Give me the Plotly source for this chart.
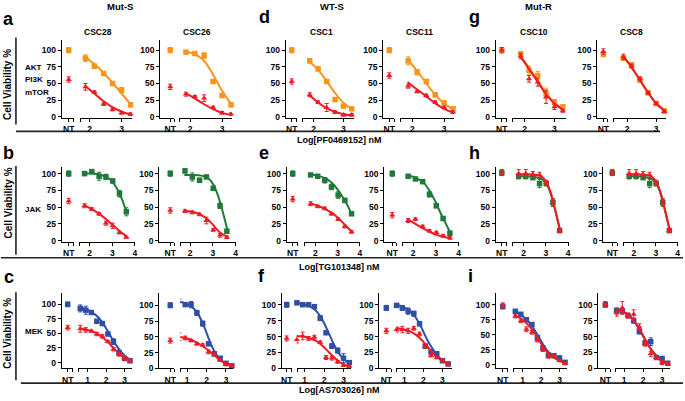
import plotly.graph_objects as go

W, H = 685, 401
ORANGE = "#F7941D"
RED = "#ED1C24"
GREEN = "#1F7A3A"
BLUE = "#2D4FA6"
FONT = "Liberation Sans"

# ---------------- data ----------------
ytick_vals = [0, 25, 50, 75, 100]
xticks_row1 = [2, 3]
xticks_row2 = [2, 3, 4]
xticks_row3 = [1, 2, 3]

dose_row1 = [1.87, 2.15, 2.44, 2.72, 3.0, 3.28]
fitx_row1 = [1.85, 2.1, 2.4, 2.7, 3.0, 3.3]
dose_row2 = [1.78, 2.1, 2.42, 2.72, 3.02, 3.32, 3.62]
fitx_row2 = [1.75, 2.1, 2.5, 2.8, 3.0, 3.2, 3.4, 3.65]
dose_row3 = [0.6, 0.9, 1.2, 1.5, 1.8, 2.1, 2.4, 2.7, 3.0, 3.3]
fitx_row3 = [0.55, 0.9, 1.3, 1.6, 1.9, 2.2, 2.5, 2.8, 3.1, 3.35]

# Row a/d/g : AKT/PI3K/mTOR (orange = drug alone, red = combination)
a28_nt = [100, 56]
a28_s = [88, 76, 65, 50, 40, 18]
a28_s_err = [5, 3, 2, 2, 4, 3]
a28_s_fit = [90, 81, 68, 52, 35, 18]
a28_c = [45, 37, 19, 11, 6, 4]
a28_c_err = [5, 2, 2, 2, 2, 2]
a28_c_fit = [47, 37, 25, 15, 8, 3]

a26_nt = [100, 45]
a26_s = [97, 95, 92, 53, 32, 18]
a26_s_err = [2, 3, 4, 3, 3, 2]
a26_s_fit = [98, 95, 86, 65, 39, 18]
a26_c = [34, 30, 28, 14, 6, 4]
a26_c_err = [3, 2, 5, 2, 2, 2]
a26_c_fit = [36, 29, 20, 12, 6, 3]

d1_nt = [100, 53]
d1_s = [84, 72, 53, 26, 16, 12]
d1_s_err = [3, 3, 3, 2, 2, 2]
d1_s_fit = [83, 73, 56, 37, 21, 11]
d1_c = [33, 22, 14, 7, 3, 3]
d1_c_err = [3, 2, 6, 2, 2, 2]
d1_c_fit = [33, 23, 14, 8, 4, 2]

d11_nt = [100, 62]
d11_s = [84, 67, 53, 33, 21, 12]
d11_s_err = [6, 4, 3, 3, 2, 2]
d11_s_fit = [86, 72, 53, 34, 20, 11]
d11_c = [46, 38, 32, 22, 14, 7]
d11_c_err = [3, 2, 2, 2, 2, 2]
d11_c_fit = [52, 43, 32, 21, 12, 6]

g10_nt = [100, 100]
g10_s = [94, 70, 62, 35, 22, 15]
g10_s_err = [4, 6, 6, 8, 4, 3]
g10_s_fit = [92, 77, 57, 37, 21, 11]
g10_c = [91, 57, 52, 30, 15, 9]
g10_c_err = [4, 5, 6, 10, 4, 2]
g10_c_fit = [91, 75, 55, 35, 20, 10]

g8_nt = [94, 98]
g8_s = [88, 78, 55, 36, 20, 9]
g8_s_err = [3, 3, 3, 2, 2, 2]
g8_s_fit = [90, 77, 57, 37, 20, 9]
g8_c = [90, 76, 57, 36, 20, 8]
g8_c_err = [4, 3, 3, 2, 2, 2]
g8_c_fit = [91, 78, 58, 38, 20, 9]

# Row b/e/h : JAK (green = drug alone, red = combination)
b28_nt = [100, 59]
b28_s = [100, 103, 96, 95, 89, 70, 43]
b28_s_err = [3, 2, 6, 4, 3, 5, 6]
b28_s_fit = [100, 100, 98, 94, 88, 78, 64, 40]
b28_c = [52, 47, 40, 26, 22, 12, 5]
b28_c_err = [3, 2, 2, 3, 4, 2, 1]
b28_c_fit = [53, 47, 38, 30, 24, 18, 12, 6]

b26_nt = [100, 45]
b26_s = [104, 95, 90, 95, 78, 52, 14]
b26_s_err = [3, 6, 3, 2, 3, 4, 3]
b26_s_fit = [98, 98, 97, 93, 85, 70, 48, 15]
b26_c = [44, 42, 39, 30, 16, 8, 5]
b26_c_err = [2, 2, 2, 5, 2, 3, 2]
b26_c_fit = [44, 43, 38, 31, 24, 16, 10, 6]

e1_nt = [100, 62]
e1_s = [98, 96, 90, 80, 68, 60, 40]
e1_s_err = [2, 2, 4, 4, 5, 3, 2]
e1_s_fit = [99, 97, 92, 84, 76, 66, 55, 38]
e1_c = [55, 51, 48, 40, 32, 21, 13]
e1_c_err = [3, 2, 2, 2, 2, 2, 2]
e1_c_fit = [56, 52, 46, 40, 34, 28, 21, 13]

e11_nt = [100, 38]
e11_s = [96, 92, 88, 69, 52, 33, 11]
e11_s_err = [2, 2, 3, 4, 3, 2, 3]
e11_s_fit = [97, 94, 85, 70, 57, 42, 28, 11]
e11_c = [30, 32, 21, 14.5, 12, 7, 4]
e11_c_err = [3, 2, 2, 2, 2, 2, 2]
e11_c_fit = [32, 25, 17, 12, 9, 7, 5, 4]

h10_nt = [101, 102]
h10_s = [96, 96, 94, 85, 85, 57, 15]
h10_s_err = [4, 4, 3, 6, 3, 6, 3]
h10_s_fit = [96, 96, 95, 92, 86, 72, 48, 14]
h10_c = [100, 100, 99, 98, 87, 57, 15]
h10_c_err = [6, 6, 4, 4, 3, 5, 3]
h10_c_fit = [99, 99, 98, 96, 89, 74, 49, 14]

h8_nt = [101, 102]
h8_s = [96, 96, 94, 85, 85, 57, 15]
h8_s_err = [4, 4, 3, 6, 3, 6, 3]
h8_s_fit = [96, 96, 95, 92, 86, 72, 48, 14]
h8_c = [100, 100, 99, 98, 87, 57, 15]
h8_c_err = [6, 6, 4, 4, 3, 5, 3]
h8_c_fit = [99, 99, 98, 96, 89, 74, 49, 14]

# Row c/f/i : MEK (blue = drug alone, red = combination)
c28_nt = [100, 60]
c28_s = [93, 90, 86, 71, 67, 49, 36, 17, 7, 3]
c28_s_err = [6, 7, 2, 3, 2, 2, 5, 4, 3, 3]
c28_s_fit = [95, 92, 85, 77, 64, 48, 32, 19, 9, 5]
c28_c = [58, 56, 54, 49, 45, 36, 23, 14, 7, 3]
c28_c_err = [6, 4, 2, 3, 3, 2, 3, 3, 3, 2]
c28_c_fit = [59, 57, 53, 48, 41, 32, 22, 13, 7, 4]

c26_nt = [100, 44]
c26_s = [107, 101, 101, 88, 71, 39, 23, 16, 8, 4]
c26_s_err = [3, 2, 5, 4, 4, 3, 3, 2, 2, 2]
c26_s_fit = [106, 103, 96, 84, 64, 40, 22, 11, 6, 4]
c26_c = [50, 48, 44, 39, 37, 26, 22, 13, 6, 4]
c26_c_err = [6, 3, 2, 2, 2, 3, 2, 2, 2, 2]
c26_c_fit = [50, 48, 44, 39, 33, 26, 18, 11, 7, 5]

f1_nt = [100, 47]
f1_s = [103, 100, 100, 97, 79, 56, 35, 28, 16, 9]
f1_s_err = [2, 2, 2, 2, 4, 3, 4, 4, 7, 3]
f1_s_fit = [103, 101, 97, 90, 77, 58, 38, 22, 12, 8]
f1_c = [45, 51, 47, 49, 41, 17, 16, 10, 5, 3]
f1_c_err = [5, 6, 3, 3, 2, 3, 3, 2, 2, 2]
f1_c_fit = [51, 50, 47, 43, 36, 27, 18, 10, 5, 3]

f11_nt = [95, 59]
f11_s = [99, 95, 90, 86, 70, 35, 26, 23, 12, 7]
f11_s_err = [3, 4, 5, 4, 3, 3, 3, 2, 2, 2]
f11_s_fit = [100, 97, 90, 80, 64, 45, 30, 18, 10, 7]
f11_c = [61, 61, 59, 63, 54, 34, 20, 17, 12, 6]
f11_c_err = [4, 5, 4, 3, 3, 3, 2, 2, 2, 2]
f11_c_fit = [63, 62, 58, 53, 45, 35, 24, 16, 10, 6]

i10_nt = [97, 99]
i10_s = [89, 84, 75, 67, 45, 28, 16, 15, 11, 4]
i10_s_err = [3, 3, 2, 3, 3, 3, 3, 3, 4, 2]
i10_s_fit = [89, 83, 72, 60, 45, 29, 18, 11, 7, 4]
i10_c = [81, 73, 59, 54, 41, 25, 13, 15, 7, 2]
i10_c_err = [3, 3, 4, 3, 3, 3, 2, 3, 2, 2]
i10_c_fit = [82, 77, 66, 55, 40, 26, 16, 10, 5, 3]

i8_nt = [100, 101]
i8_s = [91, 90, 83, 75, 58, 40, 42, 17, 15, 8]
i8_s_err = [4, 3, 3, 4, 4, 4, 6, 3, 4, 2]
i8_s_fit = [92, 90, 82, 71, 56, 40, 27, 17, 10, 7]
i8_c = [87, 95, 83, 85, 65, 39, 23, 17, 9, 8]
i8_c_err = [5, 10, 4, 7, 5, 4, 4, 3, 3, 2]
i8_c_fit = [93, 90, 82, 71, 57, 40, 26, 16, 10, 6]

# ---------------- layout geometry (pixels) ----------------
R1 = dict(ytop=40, ybot=119, yr=(-1, 116))
R2 = dict(ytop=169, ybot=245, yr=(-2, 110))
R3 = dict(ytop=297, ybot=373)

panels = [
    # row 1
    dict(yax=61, nt=68, ntend=73, ms=79, me=132, xr=(1.69, 3.34), **R1, ticks=xticks_row1,
         dose=dose_row1, fitx=fitx_row1, col=ORANGE,
         d=(a28_nt, a28_s, a28_s_err, a28_s_fit, a28_c, a28_c_err, a28_c_fit)),
    dict(yax=160, nt=170, ntend=174, ms=179, me=232, xr=(1.66, 3.31), **R1, ticks=xticks_row1,
         dose=dose_row1, fitx=fitx_row1, col=ORANGE,
         d=(a26_nt, a26_s, a26_s_err, a26_s_fit, a26_c, a26_c_err, a26_c_fit)),
    dict(yax=286, nt=292, ntend=297, ms=302, me=355, xr=(1.6, 3.37), **R1, ticks=xticks_row1,
         dose=dose_row1, fitx=fitx_row1, col=ORANGE,
         d=(d1_nt, d1_s, d1_s_err, d1_s_fit, d1_c, d1_c_err, d1_c_fit)),
    dict(yax=384, nt=390, ntend=395, ms=401, me=455, xr=(1.62, 3.31), **R1, ticks=xticks_row1,
         dose=dose_row1, fitx=fitx_row1, col=ORANGE,
         d=(d11_nt, d11_s, d11_s_err, d11_s_fit, d11_c, d11_c_err, d11_c_fit)),
    dict(yax=497, nt=503, ntend=508, ms=513, me=567, xr=(1.57, 3.37), **R1, ticks=xticks_row1,
         dose=dose_row1, fitx=fitx_row1, col=ORANGE,
         d=(g10_nt, g10_s, g10_s_err, g10_s_fit, g10_c, g10_c_err, g10_c_fit)),
    dict(yax=599, nt=605, ntend=609, ms=615, me=668, xr=(1.52, 3.34), **R1, ticks=xticks_row1,
         dose=dose_row1, fitx=fitx_row1, col=ORANGE,
         d=(g8_nt, g8_s, g8_s_err, g8_s_fit, g8_c, g8_c_err, g8_c_fit)),
    # row 2
    dict(yax=61, nt=68, ntend=73, ms=78, me=135, xr=(1.52, 4.02), **R2, ticks=xticks_row2,
         dose=dose_row2, fitx=fitx_row2, col=GREEN,
         d=(b28_nt, b28_s, b28_s_err, b28_s_fit, b28_c, b28_c_err, b28_c_fit)),
    dict(yax=159, nt=170, ntend=174, ms=180, me=236, xr=(1.57, 4.02), **R2, ticks=xticks_row2,
         dose=dose_row2, fitx=fitx_row2, col=GREEN,
         d=(b26_nt, b26_s, b26_s_err, b26_s_fit, b26_c, b26_c_err, b26_c_fit)),
    dict(yax=287, nt=293, ntend=298, ms=304, me=361, xr=(1.47, 4.02), **R2, ticks=xticks_row2,
         dose=dose_row2, fitx=fitx_row2, col=GREEN,
         d=(e1_nt, e1_s, e1_s_err, e1_s_fit, e1_c, e1_c_err, e1_c_fit)),
    dict(yax=385, nt=393, ntend=397, ms=403, me=460, xr=(1.52, 4.02), **R2, ticks=xticks_row2,
         dose=dose_row2, fitx=fitx_row2, col=GREEN,
         d=(e11_nt, e11_s, e11_s_err, e11_s_fit, e11_c, e11_c_err, e11_c_fit)),
    dict(yax=497, nt=503, ntend=508, ms=513, me=570, xr=(1.47, 4.02), **R2, ticks=xticks_row2,
         dose=dose_row2, fitx=fitx_row2, col=GREEN,
         d=(h10_nt, h10_s, h10_s_err, h10_s_fit, h10_c, h10_c_err, h10_c_fit)),
    dict(yax=605, nt=614, ntend=619, ms=625, me=680, xr=(1.51, 4.02), **R2, ticks=xticks_row2,
         dose=dose_row2, fitx=fitx_row2, col=GREEN,
         d=(h8_nt, h8_s, h8_s_err, h8_s_fit, h8_c, h8_c_err, h8_c_fit)),
    # row 3
    dict(yax=61, nt=67, ntend=72, ms=77, me=132, xr=(0.46, 3.43), **R3, yr=(-10, 119), ticks=xticks_row3,
         dose=dose_row3, fitx=fitx_row3, col=BLUE,
         d=(c28_nt, c28_s, c28_s_err, c28_s_fit, c28_c, c28_c_err, c28_c_fit)),
    dict(yax=159, nt=170, ntend=174, ms=180, me=233, xr=(0.64, 3.36), **R3, yr=(0, 119), ticks=xticks_row3,
         dose=dose_row3, fitx=fitx_row3, col=BLUE,
         d=(c26_nt, c26_s, c26_s_err, c26_s_fit, c26_c, c26_c_err, c26_c_fit)),
    dict(yax=282, nt=287, ntend=292, ms=297, me=352, xr=(0.59, 3.41), **R3, yr=(0, 118), ticks=xticks_row3,
         dose=dose_row3, fitx=fitx_row3, col=BLUE,
         d=(f1_nt, f1_s, f1_s_err, f1_s_fit, f1_c, f1_c_err, f1_c_fit)),
    dict(yax=380, nt=387, ntend=392, ms=397, me=453, xr=(0.58, 3.5), **R3, yr=(0, 118), ticks=xticks_row3,
         dose=dose_row3, fitx=fitx_row3, col=BLUE,
         d=(f11_nt, f11_s, f11_s_err, f11_s_fit, f11_c, f11_c_err, f11_c_fit)),
    dict(yax=497, nt=504, ntend=509, ms=514, me=568, xr=(0.46, 3.38), **R3, yr=(-6, 119), ticks=xticks_row3,
         dose=dose_row3, fitx=fitx_row3, col=BLUE,
         d=(i10_nt, i10_s, i10_s_err, i10_s_fit, i10_c, i10_c_err, i10_c_fit)),
    dict(yax=600, nt=607, ntend=612, ms=617, me=672, xr=(0.53, 3.42), **R3, yr=(0, 118), ticks=xticks_row3,
         dose=dose_row3, fitx=fitx_row3, col=BLUE,
         d=(i8_nt, i8_s, i8_s_err, i8_s_fit, i8_c, i8_c_err, i8_c_fit)),
]

TICKFONT = dict(family=FONT, size=8.5, color="black", weight="bold")
AXW = 1.3

fig = go.Figure()
layout = {}
ann = []


def px2x(p):
    return p / W


def px2y(p):
    return 1 - p / H


for i, p in enumerate(panels):
    kn = 2 * i + 1
    km = 2 * i + 2
    sn = "" if kn == 1 else str(kn)
    sm = str(km)
    nt, s, s_err, s_fit, c, c_err, c_fit = p["d"]
    col = p["col"]
    ydom = [px2y(p["ybot"]), px2y(p["ytop"])]

    # NT segment
    lo = -(p["nt"] - p["yax"]) / 10.0
    hi = (p["ntend"] - p["nt"]) / 10.0
    layout["xaxis" + sn] = dict(
        domain=[px2x(p["yax"]), px2x(p["ntend"])], range=[lo, hi], anchor="y" + sn,
        showline=True, linecolor="black", linewidth=AXW, ticks="outside", ticklen=3,
        tickwidth=AXW, tickcolor="black", tickvals=[0, hi - 0.02], ticktext=["NT", ""],
        tickfont=TICKFONT, showgrid=False, zeroline=False, ticklabeloverflow="allow")
    layout["yaxis" + sn] = dict(
        domain=ydom, range=list(p["yr"]), anchor="x" + sn,
        showline=True, linecolor="black", linewidth=AXW, ticks="outside", ticklen=3,
        tickwidth=AXW, tickcolor="black", tickvals=ytick_vals, tickfont=TICKFONT,
        showgrid=False, zeroline=False, ticklabeloverflow="allow")
    # main segment
    xr = p["xr"]
    layout["xaxis" + sm] = dict(
        domain=[px2x(p["ms"]), px2x(p["me"])], range=list(xr), anchor="y" + sm,
        showline=True, linecolor="black", linewidth=AXW, ticks="outside", ticklen=3,
        tickwidth=AXW, tickcolor="black",
        tickvals=[xr[0] + 0.02] + p["ticks"], ticktext=[""] + [str(t) for t in p["ticks"]],
        tickfont=TICKFONT, showgrid=False, zeroline=False, ticklabeloverflow="allow")
    layout["yaxis" + sm] = dict(
        domain=ydom, range=list(p["yr"]), anchor="x" + sm, visible=False,
        showgrid=False, zeroline=False)

    for vals, errs, fit, color, sym, ntv in (
        (s, s_err, s_fit, col, "square", nt[0]),
        (c, c_err, c_fit, RED, "triangle-up", nt[1]),
    ):
        fig.add_trace(go.Scatter(
            x=[0], y=[ntv], xaxis="x" + sn, yaxis="y" + sn, mode="markers",
            marker=dict(symbol=sym, size=5.5, color=color),
            error_y=dict(type="constant", value=4, color=color, thickness=1, width=2),
            cliponaxis=False, showlegend=False, hoverinfo="skip"))
        fig.add_trace(go.Scatter(
            x=p["fitx"], y=fit, xaxis="x" + sm, yaxis="y" + sm, mode="lines",
            line=dict(color=color, width=2, shape="spline", smoothing=0.9),
            cliponaxis=False, showlegend=False, hoverinfo="skip"))
        fig.add_trace(go.Scatter(
            x=p["dose"], y=vals, xaxis="x" + sm, yaxis="y" + sm, mode="markers",
            marker=dict(symbol=sym, size=5.5, color=color),
            error_y=dict(type="data", array=errs, color=color, thickness=1, width=2),
            cliponaxis=False, showlegend=False, hoverinfo="skip"))

# ---------------- annotations ----------------


def text(x, y, s, size=9, angle=0, xanchor="center"):
    ann.append(dict(x=px2x(x), y=px2y(y), xref="paper", yref="paper", text=s,
                    showarrow=False, textangle=angle, xanchor=xanchor, yanchor="middle",
                    font=dict(family=FONT, size=size, color="black", weight="bold")))


group_titles = ["Mut-S", "WT-S", "Mut-R"]
group_x = [120, 332, 540]
for g, gx in zip(group_titles, group_x):
    text(gx, 7, g, size=9.5)

letters = ["a", "d", "g", "b", "e", "h", "c", "f", "i"]
letter_pos = [(8, 19), (265, 17), (476, 17), (8, 155), (264, 155), (476, 155),
              (8, 281), (262, 279), (472, 279)]
for l, (lx, ly) in zip(letters, letter_pos):
    text(lx, ly, l, size=18)

cell_lines = ["CSC28", "CSC26", "CSC1", "CSC11", "CSC10", "CSC8"]
cl_x = [97, 197, 322, 420, 535, 633]
for cl, cx in zip(cell_lines, cl_x):
    text(cx, 32, cl, size=8.5)

for yy in (85, 205, 337):
    text(7, yy, "Cell Viability %", size=10, angle=-90)

targets = [("AKT", 68), ("PI3K", 81), ("mTOR", 94), ("JAK", 212), ("MEK", 336)]
for t, ty in targets:
    text(22, ty, t, size=8, xanchor="left")

drug_labels = [("Log[PF0469152] nM", 142), ("Log[TG101348] nM", 270), ("Log[AS703026] nM", 394.5)]
for dl, dy in drug_labels:
    text(340, dy, dl, size=9)

# ---------------- frame lines ----------------
shapes = []


def seg(x0, y0, x1, y1, w=1.6, color="#222"):
    shapes.append(dict(type="line", xref="paper", yref="paper",
                       x0=px2x(x0), y0=px2y(y0), x1=px2x(x1), y1=px2y(y1),
                       line=dict(color=color, width=w), layer="below"))


seg(15, 38, 15, 126)
seg(15, 168, 15, 258)
seg(15, 296, 15, 385)
seg(15, 133, 662, 133)
seg(0, 261, 685, 261)
seg(20, 388, 685, 388)

layout.update(dict(
    width=W, height=H, margin=dict(l=0, r=0, t=0, b=0),
    paper_bgcolor="white", plot_bgcolor="rgba(0,0,0,0)",
    annotations=ann, shapes=shapes, showlegend=False,
    font=dict(family=FONT, color="black"),
))
fig.update_layout(**layout)
fig.write_html("out.html", config={"displayModeBar": False},
               post_script="document.body.style.margin='0';")
